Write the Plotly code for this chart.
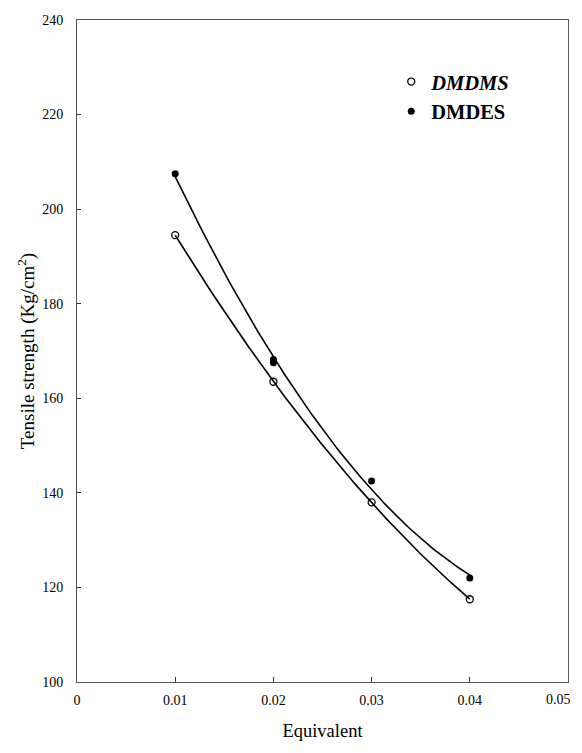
import numpy as np
import plotly.graph_objects as go

# Data
equiv_dmdms = [0.01, 0.02, 0.03, 0.04]
ts_dmdms = [194.5, 163.5, 138.0, 117.5]

equiv_dmdes = [0.01, 0.02, 0.02, 0.03, 0.04]
ts_dmdes = [207.5, 168.2, 167.5, 142.5, 122.0]

x_ticks = [0, 0.01, 0.02, 0.03, 0.04, 0.05]
x_ticklabels = ["0", "0.01", "0.02", "0.03", "0.04", "0.05"]
y_ticks = [100, 120, 140, 160, 180, 200, 220, 240]

FONT = "Liberation Serif"

# the right-most tick label is drawn as an annotation, right-aligned so it
# stays inside the visible page area
x_ticktext = list(x_ticklabels[:-1]) + [""]

fig = go.Figure()

# smooth trend curves (quadratic fits of the data)
for xs, ys in [(equiv_dmdms, ts_dmdms), (equiv_dmdes, ts_dmdes)]:
    c = np.polyfit(xs, ys, 2)
    xf = np.linspace(min(xs), max(xs), 100)
    fig.add_trace(go.Scatter(x=xf, y=np.polyval(c, xf), mode="lines",
                             line=dict(color="black", width=1.6),
                             showlegend=False, hoverinfo="skip"))

fig.add_trace(go.Scatter(x=equiv_dmdms, y=ts_dmdms, mode="markers",
                         name="<b><i>DMDMS</i></b>",
                         marker=dict(symbol="circle-open", size=7,
                                     color="black", line=dict(width=1.3))))
fig.add_trace(go.Scatter(x=equiv_dmdes, y=ts_dmdes, mode="markers",
                         name="<b>DMDES</b>",
                         marker=dict(symbol="circle", size=7, color="black")))

fig.add_annotation(x=x_ticks[-1], xref="x", y=0, yref="paper",
                   text=x_ticklabels[-1], showarrow=False,
                   xanchor="right", yanchor="top", xshift=5, yshift=-8,
                   font=dict(family=FONT, size=14, color="black"))

fig.update_layout(
    width=574, height=733,
    margin=dict(l=69, r=14, t=12, b=59),
    plot_bgcolor="white", paper_bgcolor="white",
    font=dict(family=FONT, color="black", size=14),
    legend=dict(x=0.64, y=0.937, xanchor="left", yanchor="top",
                bgcolor="rgba(0,0,0,0)",
                font=dict(family=FONT, size=20.5, color="black")),
    xaxis=dict(range=[0, 0.05], tickvals=x_ticks, ticktext=x_ticktext,
               ticks="inside", ticklen=5, tickcolor="#333", tickwidth=1,
               showline=True, linecolor="#555", linewidth=1, mirror=True,
               showgrid=False, zeroline=False, ticklabelstandoff=5,
               ticklabeloverflow="allow", automargin=False,
               title=dict(text="Equivalent", font=dict(size=18.5), standoff=22)),
    yaxis=dict(range=[100, 240], tickvals=y_ticks,
               ticks="inside", ticklen=4, tickcolor="#333", tickwidth=1,
               showline=True, linecolor="#555", linewidth=1, mirror=True,
               showgrid=False, zeroline=False, ticklabelstandoff=10,
               automargin=False,
               title=dict(text="Tensile strength (Kg/cm<sup>2</sup>)",
                          font=dict(size=19), standoff=2)),
)

fig.write_html("out.html")
